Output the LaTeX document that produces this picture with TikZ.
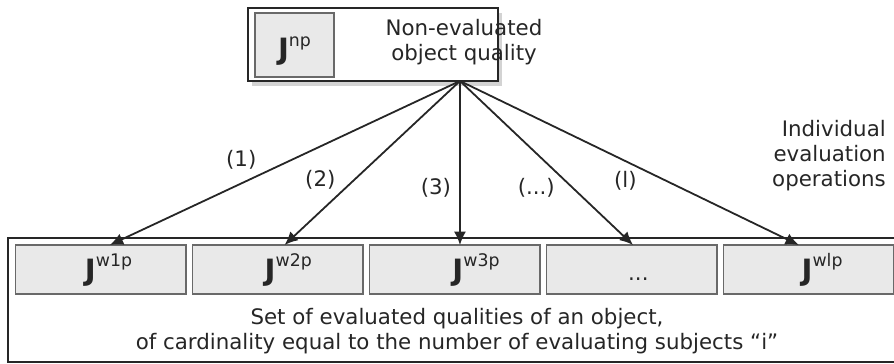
\documentclass[tikz,border=0pt]{standalone}
\usepackage{fontspec}
\setmainfont{DejaVu Sans}
\usetikzlibrary{arrows.meta, positioning, shadows}
\definecolor{frameLine}{RGB}{38,38,38}
\definecolor{cellFill}{RGB}{233,233,233}
\definecolor{cellLine}{RGB}{105,105,105}
\newcommand{\Jsym}[1]{{\fontsize{22}{22}\selectfont\bfseries J}\raisebox{10pt}{\fontsize{13}{13}\selectfont #1}}

\begin{document}
\begin{tikzpicture}[
  x=0.75pt, y=-0.75pt,
  font=\fontsize{16}{18.75}\selectfont,
  frame/.style={draw=frameLine, line width=2.2pt, fill=white, inner sep=0pt, outer sep=0pt},
  cell/.style={draw=cellLine, fill=cellFill, line width=1.1pt, minimum width=127.9pt, minimum height=36.75pt, inner sep=0pt, outer sep=0pt},
  jlbl/.style={anchor=base, inner sep=0pt, text=frameLine},
  txt/.style={align=center, inner sep=0pt, text=frameLine},
  arr/.style={-{Latex[length=10pt, width=9pt]}, line width=1.35pt, draw=frameLine},
  lbl/.style={inner sep=0pt, text=frameLine}
]

\useasboundingbox (0,0) rectangle (894,364);

% Top: non-evaluated object quality
\node[frame, minimum width=187.5pt, minimum height=54.75pt, drop shadow={shadow xshift=3pt, shadow yshift=-4pt, opacity=.35}] (top) at (373,44.5) {};
\node[cell, minimum width=59.25pt, minimum height=48pt] (jnp) at (294.5,45) {};
\node[jlbl] (jnplbl) at ([yshift=-11.25pt]jnp.center) {\Jsym{np}};
\node[txt] (toptext) at (464,42) {Non-evaluated\\object quality};

% Bottom: set of evaluated qualities
\node[frame, minimum width=667.5pt, minimum height=93pt] (set) at (453,300) {};
\node[cell] (w1) at (100.5,269.5) {};
\node[cell, right=4.9pt of w1] (w2) {};
\node[cell, right=4.9pt of w2] (w3) {};
\node[cell, right=4.9pt of w3] (w4) {};
\node[cell, right=4.9pt of w4] (w5) {};

\node[jlbl] (j1) at ([xshift=6pt, yshift=-7.9pt]w1.center) {\Jsym{w1p}};
\node[jlbl] (j2) at ([xshift=8pt, yshift=-7.9pt]w2.center) {\Jsym{w2p}};
\node[jlbl] (j3) at ([xshift=16pt, yshift=-7.9pt]w3.center) {\Jsym{w3p}};
\node[jlbl] (j4) at ([xshift=5pt, yshift=-7.9pt]w4.center) {...};
\node[jlbl] (j5) at ([xshift=10pt, yshift=-7.9pt]w5.center) {\Jsym{wlp}};

\node[txt] (settext) at (457,331) {Set of evaluated qualities of an object,\\of cardinality equal to the number of evaluating subjects “i”};

% Evaluation operations
\coordinate (hub) at ([xshift=65.25pt]top.south);
\draw[arr] (hub) -- node[lbl, pos=.48, left=26pt] {(1)} ([xshift=7pt]w1.north);
\draw[arr] (hub) -- node[lbl, pos=.6, left=13.8pt] {(2)} ([xshift=5.25pt]w2.north);
\draw[arr] (hub) -- node[lbl, pos=.65, left=6pt] {(3)} ([xshift=4pt]w3.north);
\draw[arr] (hub) -- node[lbl, pos=.65, left=12.6pt] {(...)} ([xshift=1pt]w4.north);
\draw[arr] (hub) -- node[lbl, pos=.61, left=21.8pt] {(l)} ([xshift=-7.5pt]w5.north);

\node[txt, align=right, anchor=east] (ops) at (886,156) {Individual\\evaluation\\operations};

\end{tikzpicture}
\end{document}
